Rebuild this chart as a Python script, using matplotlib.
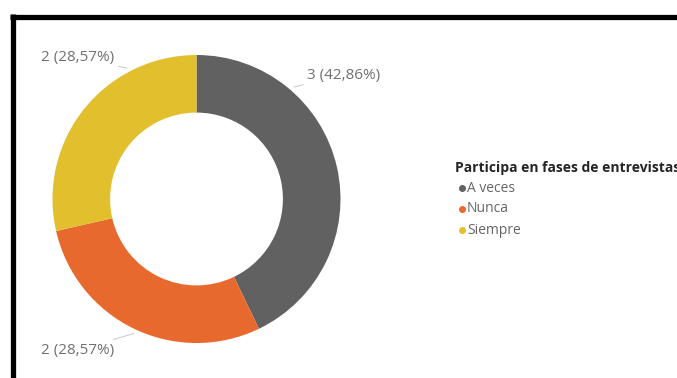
import numpy as np
import matplotlib
matplotlib.use("Agg")
import matplotlib.pyplot as plt
from matplotlib.lines import Line2D

# respuestas por categoría
categorias = ["A veces", "Nunca", "Siempre"]
valores = [3, 2, 2]
colores = ["#616161", "#E8692D", "#E2BF2C"]
titulo_leyenda = "Participa en fases de entrevistas"

# ángulo (grados) donde arranca cada línea guía y posición del texto
angulo_guia = [49, 245, 118]
pos_texto = [(0.77, 0.86), (-0.57, -1.05), (-0.57, 0.98)]
alineacion = ["left", "right", "right"]

W, H = 677, 378
fig = plt.figure(figsize=(W / 100, H / 100), dpi=100)
fig.patch.set_facecolor("white")

# donut centrado en (196, 199) px con radio 144 px
cx, cy, R = 196.5, 199, 144
ax = fig.add_axes([(cx - R) / W, (H - cy - R) / H, 2 * R / W, 2 * R / H])
ax.pie(valores, colors=colores, startangle=90, counterclock=False,
       radius=1, wedgeprops=dict(width=0.4, edgecolor="none"))
ax.set_xlim(-1, 1)
ax.set_ylim(-1, 1)
ax.set_aspect("equal")
ax.axis("off")

total = sum(valores)
for v, ang, (tx, ty), ha in zip(valores, angulo_guia, pos_texto, alineacion):
    etiqueta = f"{v} ({v / total * 100:.2f}%)".replace(".", ",")
    a = np.radians(ang)
    x0, y0 = 1.03 * np.cos(a), 1.03 * np.sin(a)
    ax.annotate(etiqueta, xy=(x0, y0), xytext=(tx, ty), ha=ha, va="center",
                fontsize=11, color="#707070", family="Open Sans",
                arrowprops=dict(arrowstyle="-", color="#c8c8c8", lw=0.7,
                                shrinkA=1, shrinkB=0),
                annotation_clip=False)

# leyenda a la derecha
fig.text(455 / W, 1 - 168 / H, titulo_leyenda, fontsize=10, fontweight="bold",
         color="#252525", family="Open Sans", va="center", ha="left")
for i, (cat, col) in enumerate(zip(categorias, colores)):
    y = 1 - (188 + 21 * i) / H
    fig.add_artist(Line2D([462 / W], [y], marker="o", markersize=4,
                          color=col, transform=fig.transFigure))
    fig.text(467 / W, y, cat, fontsize=10, color="#666666", family="Open Sans",
             va="center", ha="left")

# marco negro superior e izquierdo
fig.add_artist(Line2D([10 / W, 1], [1 - 16.5 / H] * 2, color="black", lw=3.8,
                      transform=fig.transFigure, solid_capstyle="butt"))
fig.add_artist(Line2D([12.5 / W] * 2, [0, 1 - 14 / H], color="black", lw=3.8,
                      transform=fig.transFigure, solid_capstyle="butt"))

fig.savefig("out.png", dpi=100)
